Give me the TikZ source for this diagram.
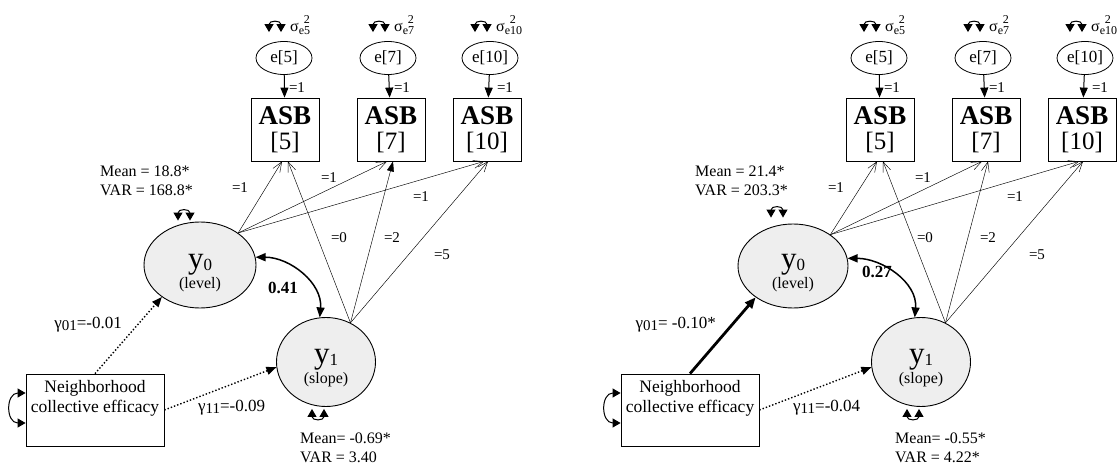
\documentclass[tikz,border=0pt]{standalone}
\usepackage{fontspec}
\setmainfont{Liberation Serif}
\usetikzlibrary{arrows.meta,shapes.geometric}

\newcommand\gsub[1]{\raisebox{-0.25ex}{\fontsize{15}{15}\selectfont #1}}
\newcommand\varsig[1]{σ\makebox[0pt][l]{\hspace{5pt}\raisebox{1.0ex}{\fontsize{12}{12}\selectfont 2}}\raisebox{-0.4ex}{\fontsize{12}{12}\selectfont e#1}}
\newcommand\asbtext[1]{{\fontsize{27}{28}\selectfont\bfseries ASB}\\[6pt]{\fontsize{25}{26}\selectfont [#1]}}
\newcommand\lattext[2]{{\fontsize{31}{31}\selectfont y}\raisebox{-0.12em}{\fontsize{17}{17}\selectfont #1}\\[1pt]{\fontsize{16}{18}\selectfont (#2)}}

\begin{document}
\begin{tikzpicture}[x=1pt,y=1pt,
  every node/.style={font=\fontsize{16}{19}\selectfont},
  errnode/.style={draw, ellipse, line width=0.8pt, minimum width=56pt, minimum height=33pt, inner sep=0pt, font=\fontsize{17}{19}\selectfont},
  asbnode/.style={draw, line width=0.8pt, minimum width=68pt, minimum height=63pt, inner sep=0pt, align=center},
  latnode/.style={draw, ellipse, line width=0.9pt, fill=gray!13, inner sep=0pt},
  boxnode/.style={draw, line width=0.8pt, minimum width=138pt, minimum height=72pt},
  lbl/.style={inner sep=0pt, align=left},
  small/.style={inner sep=0pt, font=\fontsize{15}{17}\selectfont},
  fixpath/.style={-{Triangle[length=10pt,width=8pt]}, line width=1pt},
  load/.style={-{Straight Barb[length=10pt,width=8pt]}, line width=0.45pt},
  loadfill/.style={-{Triangle[length=10pt,width=7pt]}, line width=0.45pt},
  varloop/.style={{Triangle[length=8pt,width=9pt]}-{Triangle[length=8pt,width=9pt]}, line width=1pt},
  covar/.style={{Triangle[length=10pt,width=8pt]}-{Triangle[length=10pt,width=8pt]}, line width=1.5pt},
  gdot/.style={-{Triangle[length=10pt,width=8pt]}, line width=1.4pt, dotted},
  gbold/.style={-{Triangle[length=11pt,width=9pt]}, line width=2.8pt}
]
\useasboundingbox (0,0) rectangle (1119,-468);

% left model
\begin{scope}
\node[errnode] (e5) at (284,-58) {e[5]};
\node[errnode] (e7) at (388,-58) {e[7]};
\node[errnode] (e10) at (490,-58) {e[10]};
\node[asbnode] (asb5) at (285,-129.5) {\asbtext{5}};
\node[asbnode] (asb7) at (391,-129.5) {\asbtext{7}};
\node[asbnode] (asb10) at (487,-129.5) {\asbtext{10}};
\draw[fixpath] (e5) -- (asb5);
\draw[fixpath] (e7) -- (asb7);
\draw[fixpath] (e10) -- (asb10);
\node[small] (f5) at (297,-88) {=1};
\node[small] (f7) at (402,-88) {=1};
\node[small] (f10) at (505,-88) {=1};
\draw[varloop] ([xshift=-15pt,yshift=9pt]e5.north) .. controls +(0,12) and +(0,12) .. ([xshift=-3pt,yshift=9pt]e5.north);
\draw[varloop] ([xshift=-15pt,yshift=9pt]e7.north) .. controls +(0,12) and +(0,12) .. ([xshift=-3pt,yshift=9pt]e7.north);
\draw[varloop] ([xshift=-15pt,yshift=9pt]e10.north) .. controls +(0,12) and +(0,12) .. ([xshift=-3pt,yshift=9pt]e10.north);
\node[lbl, anchor=west] (s5) at (290,-25) {\varsig{5}};
\node[lbl, anchor=west] (s7) at (394,-25) {\varsig{7}};
\node[lbl, anchor=west] (s10) at (496,-25) {\varsig{10}};

\node[latnode, minimum width=112pt, minimum height=86pt] (y0) at (200,-265) {};
\node[lbl, align=center] (y0txt) at (200,-273) {\lattext{0}{level}};
\node[latnode, minimum width=99pt, minimum height=89pt] (y1) at (326,-362) {};
\node[lbl, align=center] (y1txt) at (326,-368) {\lattext{1}{slope}};
\draw[load] (y0.40) -- ([xshift=-3pt]asb5.south);
\draw[load] (y0.40) -- ([xshift=-4pt]asb7.south);
\draw[load] (y0.40) -- ([xshift=-3pt]asb10.south);
\draw[load] (y1.58) -- ([xshift=3pt]asb5.south);
\draw[loadfill] (y1.58) -- ([xshift=2pt]asb7.south);
\draw[load] (y1.58) -- ([xshift=1pt]asb10.south);
\node[small] (l1) at (240,-188) {=1};
\node[small] (l2) at (329,-178) {=1};
\node[small] (l3) at (421,-197) {=1};
\node[small] (l4) at (339,-238) {=0};
\node[small] (l5) at (392,-238) {=2};
\node[small] (l6) at (442,-255) {=5};

\node[lbl, anchor=west] (m0) at (100,-181) {Mean = 18.8*\\VAR = 168.8*};
\draw[varloop] ([xshift=-22pt,yshift=1pt]y0.north) .. controls +(0,12) and +(0,12) .. ([xshift=-10pt,yshift=1pt]y0.north);
\node[lbl, anchor=west] (m1) at (300,-448) {Mean= -0.69*\\VAR = 3.40};
\draw[varloop] ([xshift=-14pt,yshift=-2pt]y1.south) .. controls +(0,-12) and +(0,-12) .. ([xshift=-2pt,yshift=-2pt]y1.south);
\draw[covar] (y0.8) to[out=0,in=85] (y1.98);
\node[lbl, font=\fontsize{17}{19}\selectfont\bfseries] (c01) at (283,-288) {0.41};

\node[boxnode] (nce) at (95,-410) {};
\node[lbl, align=center, font=\fontsize{17.5}{20}\selectfont] (ncetxt) at (95,-398) {Neighborhood\\collective efficacy};
\draw[varloop] ([yshift=17pt]nce.west) .. controls +(-20,0) and +(-20,0) .. ([yshift=-13pt]nce.west);
\draw[gdot] (nce.north) -- (y0.220);
\draw[gdot] (nce.east) -- (y1.186);
\node[lbl, anchor=east, font=\fontsize{17}{19}\selectfont] (g01) at (122,-325) {γ\gsub{01}=-0.01};
\node[lbl, anchor=west, font=\fontsize{17}{19}\selectfont] (g11) at (198,-408) {γ\gsub{11}=-0.09};
\end{scope}

% right model
\begin{scope}[xshift=595pt]
\node[errnode] (re5) at (284,-58) {e[5]};
\node[errnode] (re7) at (388,-58) {e[7]};
\node[errnode] (re10) at (490,-58) {e[10]};
\node[asbnode] (rasb5) at (285,-129.5) {\asbtext{5}};
\node[asbnode] (rasb7) at (391,-129.5) {\asbtext{7}};
\node[asbnode] (rasb10) at (487,-129.5) {\asbtext{10}};
\draw[fixpath] (re5) -- (rasb5);
\draw[fixpath] (re7) -- (rasb7);
\draw[fixpath] (re10) -- (rasb10);
\node[small] (rf5) at (297,-88) {=1};
\node[small] (rf7) at (402,-88) {=1};
\node[small] (rf10) at (505,-88) {=1};
\draw[varloop] ([xshift=-15pt,yshift=9pt]re5.north) .. controls +(0,12) and +(0,12) .. ([xshift=-3pt,yshift=9pt]re5.north);
\draw[varloop] ([xshift=-15pt,yshift=9pt]re7.north) .. controls +(0,12) and +(0,12) .. ([xshift=-3pt,yshift=9pt]re7.north);
\draw[varloop] ([xshift=-15pt,yshift=9pt]re10.north) .. controls +(0,12) and +(0,12) .. ([xshift=-3pt,yshift=9pt]re10.north);
\node[lbl, anchor=west] (rs5) at (290,-25) {\varsig{5}};
\node[lbl, anchor=west] (rs7) at (394,-25) {\varsig{7}};
\node[lbl, anchor=west] (rs10) at (496,-25) {\varsig{10}};

\node[latnode, minimum width=110pt, minimum height=84pt] (ry0) at (198,-266) {};
\node[lbl, align=center] (ry0txt) at (198,-273) {\lattext{0}{level}};
\node[latnode, minimum width=99pt, minimum height=89pt] (ry1) at (326,-362) {};
\node[lbl, align=center] (ry1txt) at (326,-368) {\lattext{1}{slope}};
\draw[load] (ry0.40) -- ([xshift=-3pt]rasb5.south);
\draw[load] (ry0.40) -- ([xshift=-4pt]rasb7.south);
\draw[load] (ry0.40) -- ([xshift=-3pt]rasb10.south);
\draw[load] (ry1.58) -- ([xshift=3pt]rasb5.south);
\draw[load] (ry1.58) -- ([xshift=2pt]rasb7.south);
\draw[load] (ry1.58) -- ([xshift=1pt]rasb10.south);
\node[small] (rl1) at (241,-188) {=1};
\node[small] (rl2) at (328,-178) {=1};
\node[small] (rl3) at (420,-197) {=1};
\node[small] (rl4) at (330,-238) {=0};
\node[small] (rl5) at (393,-238) {=2};
\node[small] (rl6) at (442,-255) {=5};

\node[lbl, anchor=west] (rm0) at (100,-181) {Mean = 21.4*\\VAR = 203.3*};
\draw[varloop] ([xshift=-22pt,yshift=6pt]ry0.north) .. controls +(0,12) and +(0,12) .. ([xshift=-10pt,yshift=6pt]ry0.north);
\node[lbl, anchor=west] (rm1) at (300,-448) {Mean= -0.55*\\VAR = 4.22*};
\draw[varloop] ([xshift=-14pt,yshift=-2pt]ry1.south) .. controls +(0,-12) and +(0,-12) .. ([xshift=-2pt,yshift=-2pt]ry1.south);
\draw[covar] (ry0.8) to[out=0,in=85] (ry1.98);
\node[lbl, font=\fontsize{17}{19}\selectfont\bfseries] (rc01) at (282,-272) {0.27};

\node[boxnode] (rnce) at (95,-410) {};
\node[lbl, align=center, font=\fontsize{17.5}{20}\selectfont] (rncetxt) at (95,-398) {Neighborhood\\collective efficacy};
\draw[varloop] ([yshift=17pt]rnce.west) .. controls +(-20,0) and +(-20,0) .. ([yshift=-13pt]rnce.west);
\draw[gbold] (rnce.north) -- (ry0.220);
\draw[gdot] (rnce.east) -- (ry1.186);
\node[lbl, anchor=east, font=\fontsize{17}{19}\selectfont] (rg01) at (121,-325) {γ\gsub{01}= -0.10*};
\node[lbl, anchor=west, font=\fontsize{17}{19}\selectfont] (rg11) at (198,-408) {γ\gsub{11}=-0.04};
\end{scope}
\end{tikzpicture}
\end{document}
